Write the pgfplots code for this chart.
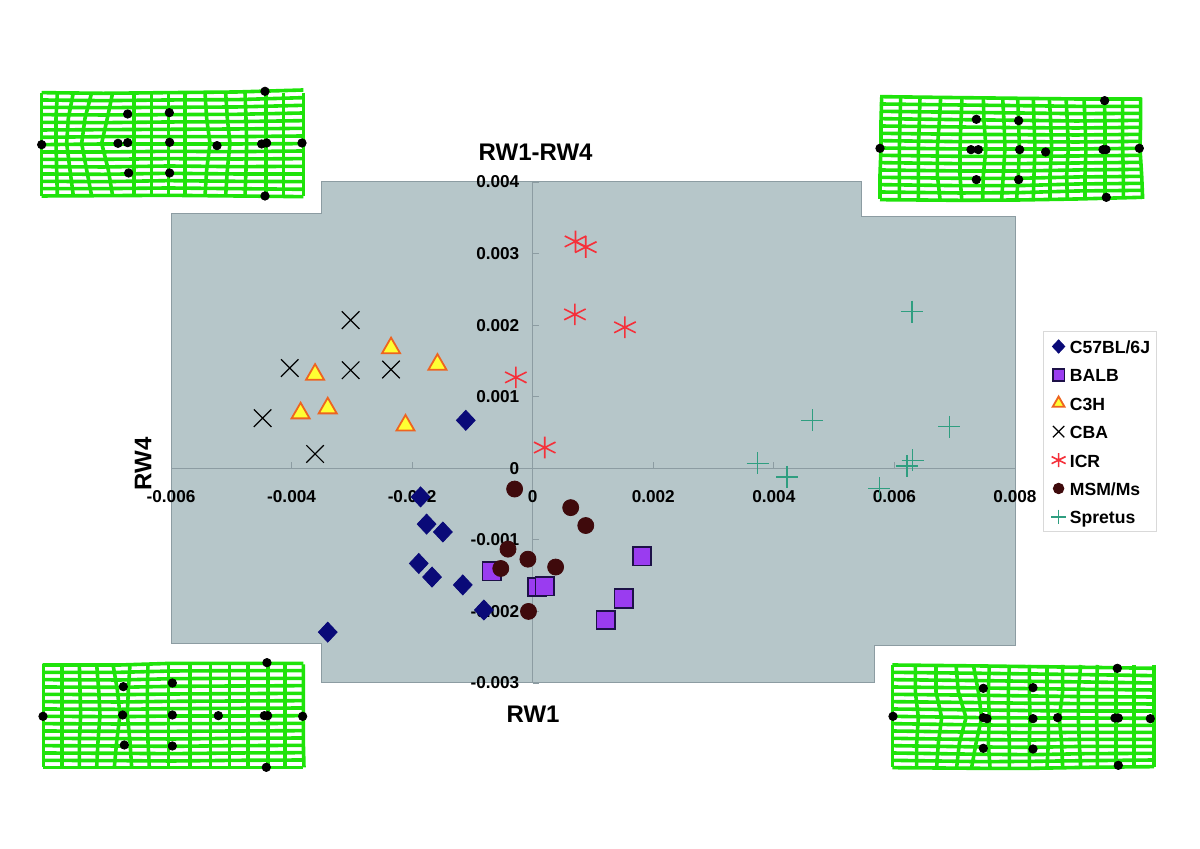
\documentclass[border=0pt]{standalone}
\usepackage{fontspec}
\setmainfont{Liberation Sans}
\usepackage{pgfplots}
\pgfplotsset{compat=1.18}
\definecolor{panel}{HTML}{B6C6C9}
\definecolor{panelline}{HTML}{8C9CA2}
\definecolor{gridgreen}{HTML}{1FE30A}
\definecolor{navy}{HTML}{0A0A78}
\definecolor{violet}{HTML}{9A3CF0}
\definecolor{violetline}{HTML}{1D1147}
\definecolor{triline}{HTML}{EE6420}
\definecolor{triyellow}{HTML}{FFFF33}
\definecolor{icr}{HTML}{F5303A}
\definecolor{msm}{HTML}{3F0A0C}
\definecolor{spret}{HTML}{2F9E80}
\newcommand\Vl[5]{\addplot[gridgreen,line width=1.8pt,no marks] coordinates {(#1,\yA)(#2,\yB)(#3,\yC)(#4,\yD)(#5,\yE)};}
\newcommand\Hl[5]{\addplot[gridgreen,line width=1.8pt,no marks] coordinates {(\xA,#1)(\xB,#2)(\xC,#3)(\xD,#4)(\xE,#5)};}
\pgfplotsset{deform/.style={scale only axis,hide axis,clip=false,ymin=0,y dir=reverse,xmin=0},
 dots/.style={only marks,mark=*,mark size=2.1pt,black,mark options={fill=black,draw=black}}}
\begin{document}
\begin{tikzpicture}
\path[use as bounding box] (0,0) rectangle (600pt,424.5pt);
% panel
\begin{axis}[at={(0pt,0pt)},anchor=south west,scale only axis,width=600pt,height=424.5pt,hide axis,clip=false,
 xmin=0,xmax=1200,ymin=0,ymax=849,y dir=reverse]
\addplot[fill=panel,draw=panelline,line width=0.5pt] coordinates {(171,214)(321,214)(321,182)(861,182)(861,217)(1015,217)(1015,646)(874,646)(874,683)(321,683)(321,644)(171,644)} --cycle;
\end{axis}
% top-left grid
\def\yA{68}\def\yB{145}\def\yC{220}\def\yD{300}\def\yE{378}
\def\xA{65}\def\xB{250}\def\xC{445}\def\xD{650}\def\xE{850}
\begin{axis}[deform,at={(10pt,314.5pt)},anchor=south west,width=160pt,height=75pt,xmax=960,ymax=450]
\Vl{65}{65}{65}{65}{65}\Vl{112}{108}{108}{110}{112}\Vl{160}{145}{140}{150}{160}\Vl{215}{195}{185}{200}{215}\Vl{278}{262}{245}{265}{278}
\Vl{342}{342}{342}{342}{342}\Vl{395}{395}{395}{395}{395}\Vl{445}{445}{445}{445}{445}\Vl{495}{495}{495}{495}{495}\Vl{555}{560}{570}{560}{555}
\Vl{617}{622}{630}{622}{617}\Vl{675}{678}{680}{678}{675}\Vl{738}{738}{738}{738}{738}\Vl{790}{790}{790}{790}{790}\Vl{850}{850}{850}{850}{850}
\Hl{68}{70}{68}{66}{60}\Hl{90}{92}{90}{89}{83}\Hl{112}{113}{112}{111}{106}\Hl{134}{135}{134}{133}{129}\Hl{157}{158}{156}{155}{152}
\Hl{180}{179}{178}{177}{175}\Hl{202}{200}{200}{200}{198}\Hl{224}{222}{222}{222}{221}\Hl{246}{246}{244}{245}{243}\Hl{268}{268}{266}{267}{266}
\Hl{290}{291}{288}{290}{289}\Hl{312}{313}{310}{312}{312}\Hl{334}{335}{332}{334}{335}\Hl{356}{356}{354}{356}{358}\Hl{378}{377}{376}{378}{380}
\addplot[dots] coordinates {(735,64)(323,132)(448,128)(65,224)(294,220)(323,218)(449,217)(591,227)(725,222)(740,219)(846,219)(326,309)(449,309)(735,378)};
\end{axis}
% top-right grid
\def\yA{38}\def\yB{110}\def\yC{190}\def\yD{270}\def\yE{342}
\def\xA{60}\def\xB{300}\def\xC{475}\def\xD{650}\def\xE{845}
\begin{axis}[deform,at={(430pt,312pt)},anchor=south west,width=150pt,height=70pt,xmax=900,ymax=420]
\Vl{65}{63}{63}{60}{60}\Vl{122}{120}{118}{118}{118}\Vl{180}{178}{175}{175}{175}\Vl{242}{238}{232}{232}{240}\Vl{306}{303}{300}{300}{305}
\Vl{370}{372}{378}{370}{368}\Vl{428}{432}{435}{430}{425}\Vl{473}{476}{478}{475}{470}\Vl{520}{522}{525}{522}{520}\Vl{568}{572}{575}{570}{570}
\Vl{618}{622}{625}{620}{622}\Vl{672}{675}{678}{675}{675}\Vl{733}{735}{735}{735}{735}\Vl{788}{788}{788}{790}{790}\Vl{842}{842}{840}{845}{848}
\Hl{35}{38}{40}{42}{42}\Hl{57}{60}{62}{64}{64}\Hl{79}{82}{84}{86}{85}\Hl{101}{104}{106}{108}{106}\Hl{123}{126}{128}{129}{127}
\Hl{145}{148}{149}{150}{148}\Hl{167}{170}{170}{171}{169}\Hl{189}{192}{192}{192}{190}\Hl{211}{214}{214}{213}{211}\Hl{233}{236}{236}{234}{232}
\Hl{255}{258}{258}{255}{253}\Hl{277}{280}{280}{276}{274}\Hl{299}{302}{302}{297}{295}\Hl{321}{324}{323}{318}{316}\Hl{344}{346}{345}{342}{337}
\addplot[dots] coordinates {(734,47)(349,103)(476,107)(60,190)(333,194)(355,194)(479,194)(557,201)(729,194)(738,194)(838,190)(349,284)(476,284)(739,337)};
\end{axis}
% bottom-left grid
\def\yA{103}\def\yB{180}\def\yC{255}\def\yD{335}\def\yE{412}
\def\xA{68}\def\xB{300}\def\xC{457}\def\xD{650}\def\xE{850}
\begin{axis}[deform,at={(10pt,34.5pt)},anchor=south west,width=155pt,height=75pt,xmax=930,ymax=450]
\Vl{70}{70}{70}{70}{70}\Vl{126}{126}{126}{126}{126}\Vl{178}{180}{182}{178}{178}\Vl{230}{236}{240}{234}{230}\Vl{279}{292}{300}{290}{283}
\Vl{330}{325}{322}{330}{335}\Vl{384}{382}{382}{384}{388}\Vl{445}{445}{445}{445}{445}\Vl{510}{510}{510}{510}{510}\Vl{572}{572}{572}{572}{572}
\Vl{628}{628}{628}{628}{628}\Vl{684}{684}{684}{684}{684}\Vl{744}{744}{744}{744}{744}\Vl{795}{795}{795}{795}{795}\Vl{850}{850}{850}{850}{852}
\Hl{105}{105}{100}{100}{100}\Hl{127}{127}{123}{122}{122}\Hl{149}{150}{146}{145}{145}\Hl{171}{172}{169}{168}{167}\Hl{193}{194}{192}{191}{190}
\Hl{215}{216}{214}{213}{212}\Hl{237}{238}{236}{235}{234}\Hl{259}{260}{258}{258}{257}\Hl{281}{282}{281}{281}{280}\Hl{303}{304}{304}{303}{302}
\Hl{325}{326}{327}{325}{324}\Hl{347}{348}{349}{347}{346}\Hl{369}{370}{371}{369}{368}\Hl{391}{392}{393}{391}{390}\Hl{413}{413}{413}{413}{413}
\addplot[dots] coordinates {(741,98)(310,170)(457,159)(69,259)(308,255)(457,255)(595,257)(733,257)(743,257)(848,259)(313,345)(457,348)(739,412)};
\end{axis}
% bottom-right grid
\def\yA{75}\def\yB{155}\def\yC{233}\def\yD{310}\def\yE{382}
\def\xA{67}\def\xB{340}\def\xC{489}\def\xD{650}\def\xE{852}
\begin{axis}[deform,at={(435pt,29.5pt)},anchor=south west,width=150pt,height=75pt,xmax=900,ymax=450]
\Vl{68}{68}{68}{68}{68}\Vl{136}{136}{145}{140}{140}\Vl{198}{198}{215}{205}{200}\Vl{258}{265}{288}{268}{260}\Vl{310}{325}{335}{318}{305}
\Vl{358}{355}{358}{355}{360}\Vl{418}{415}{415}{418}{418}\Vl{478}{478}{480}{478}{478}\Vl{531}{531}{535}{535}{531}\Vl{578}{578}{568}{575}{578}
\Vl{632}{625}{625}{628}{632}\Vl{682}{680}{680}{682}{682}\Vl{738}{738}{738}{738}{738}\Vl{792}{792}{792}{792}{792}\Vl{852}{852}{852}{852}{852}
\Hl{75}{78}{80}{82}{85}\Hl{97}{100}{102}{104}{107}\Hl{119}{122}{124}{126}{129}\Hl{141}{144}{146}{148}{150}\Hl{163}{166}{168}{170}{171}
\Hl{185}{188}{190}{191}{192}\Hl{207}{210}{212}{213}{213}\Hl{229}{233}{234}{234}{235}\Hl{251}{255}{256}{256}{256}\Hl{273}{277}{278}{277}{277}
\Hl{295}{299}{300}{298}{298}\Hl{317}{321}{322}{319}{319}\Hl{339}{343}{344}{341}{340}\Hl{361}{365}{364}{362}{360}\Hl{383}{385}{385}{382}{380}
\addplot[dots] coordinates {(742,85)(340,145)(489,143)(69,229)(340,233)(351,236)(489,236)(563,233)(735,234)(745,234)(841,236)(340,325)(489,327)(745,376)};
\end{axis}
% main scatter
\begin{axis}[at={(85.5pt,83pt)},anchor=south west,scale only axis,width=422pt,height=250.5pt,clip=false,
 xmin=-0.006,xmax=0.008,ymin=-0.003,ymax=0.004,axis on top,
 axis lines=middle,axis line style={panelline,line width=0.5pt,-},
 hide obscured x ticks=false,hide obscured y ticks=false,
 scaled ticks=false,
 tick align=inside,major tick length=3pt,tick style={panelline,line width=0.4pt},
 xtick={-0.006,-0.004,-0.002,0,0.002,0.004,0.006,0.008},
 xticklabels={-0.006,-0.004,-0.002,0,0.002,0.004,0.006,0.008},
 ytick={-0.003,-0.002,-0.001,0,0.001,0.002,0.003,0.004},
 yticklabels={-0.003,-0.002,-0.001,0,0.001,0.002,0.003,0.004},
 xticklabel style={font=\bfseries\fontsize{8.6}{10}\selectfont,inner sep=0pt,anchor=north,yshift=-11pt},
 yticklabel style={font=\bfseries\fontsize{8.6}{10}\selectfont,inner sep=0pt,anchor=east,xshift=-6.5pt},
 title={RW1-RW4},xlabel={RW1},ylabel={RW4},
 every axis title/.style={at={(axis description cs:0.432,1.06)},anchor=center,font=\bfseries\fontsize{12}{14}\selectfont},
 every axis x label/.style={at={(axis description cs:0.429,-0.062)},anchor=center,font=\bfseries\fontsize{12}{14}\selectfont},
 every axis y label/.style={at={(axis description cs:-0.033,0.437)},anchor=center,rotate=90,font=\bfseries\fontsize{12}{14}\selectfont},
 legend style={at={(1.0332,0.7026)},anchor=north west,draw=black!15,fill=white,line width=0.5pt,
   font=\bfseries\fontsize{8.8}{10}\selectfont,row sep=3.2pt,inner xsep=2pt,inner ysep=2pt,
   nodes={inner sep=1pt,text height=8pt,text depth=1pt}},
 legend cell align=left,
 legend image code/.code={\path[draw=none,fill=none] (0cm,0cm) -- (0.55cm,0cm);\draw[mark repeat=1,mark phase=1,#1] plot coordinates {(0.3cm,0cm)};},
 legend image post style={scale=0.65},
]
\addplot[only marks,mark=diamond*,mark size=5pt,color=navy,mark options={fill=navy,draw=navy,xscale=1.25}] coordinates {
(-0.00111,0.00067)(-0.00186,-0.00040)(-0.00176,-0.00078)(-0.00149,-0.00089)(-0.00189,-0.00133)(-0.00167,-0.00152)(-0.00116,-0.00163)(-0.00081,-0.00198)(-0.00340,-0.00229)};
\addlegendentry{C57BL/6J}
\addplot[only marks,mark=square*,mark size=4.6pt,mark options={fill=violet,draw=violetline,line width=0.9pt}] coordinates {
(-0.00068,-0.00144)(0.00007,-0.00166)(0.00020,-0.00165)(0.00181,-0.00123)(0.00151,-0.00182)(0.00121,-0.00212)};
\addlegendentry{BALB}
\addplot[only marks,mark=triangle*,mark size=5.2pt,mark options={fill=triyellow,draw=triline,line width=0.9pt}] coordinates {
(-0.00235,0.00168)(-0.00361,0.00131)(-0.00158,0.00145)(-0.00385,0.00077)(-0.00340,0.00084)(-0.00211,0.00060)};
\addlegendentry{C3H}
\addplot[only marks,mark=x,mark size=6.2pt,mark options={draw=black,line width=0.6pt}] coordinates {
(-0.00302,0.00207)(-0.00403,0.00140)(-0.00302,0.00137)(-0.00235,0.00138)(-0.00448,0.00070)(-0.00361,0.00020)};
\addlegendentry{CBA}
\addplot[only marks,mark=asterisk,mark size=5.4pt,mark options={draw=icr,line width=0.8pt,xscale=1.15}] coordinates {
(0.00071,0.00317)(0.00088,0.00309)(0.00070,0.00215)(0.00153,0.00197)(-0.00028,0.00127)(0.00020,0.00029)};
\addlegendentry{ICR}
\addplot[only marks,mark=*,mark size=4pt,mark options={fill=msm,draw=msm}] coordinates {
(-0.00030,-0.00029)(0.00063,-0.00055)(0.00088,-0.00080)(-0.00041,-0.00113)(-0.00008,-0.00127)(-0.00053,-0.00140)(0.00038,-0.00138)(-0.00007,-0.00200)};
\addlegendentry{MSM/Ms}
\addplot[only marks,mark=+,mark size=5.5pt,mark options={draw=spret,line width=0.7pt}] coordinates {
(0.00629,0.00219)(0.00464,0.00067)(0.00691,0.00058)(0.00373,0.00007)(0.00422,-0.00012)(0.00575,-0.00028)(0.00630,0.00011)(0.00621,0.00003)};
\addlegendentry{Spretus}
\end{axis}
\end{tikzpicture}
\end{document}
